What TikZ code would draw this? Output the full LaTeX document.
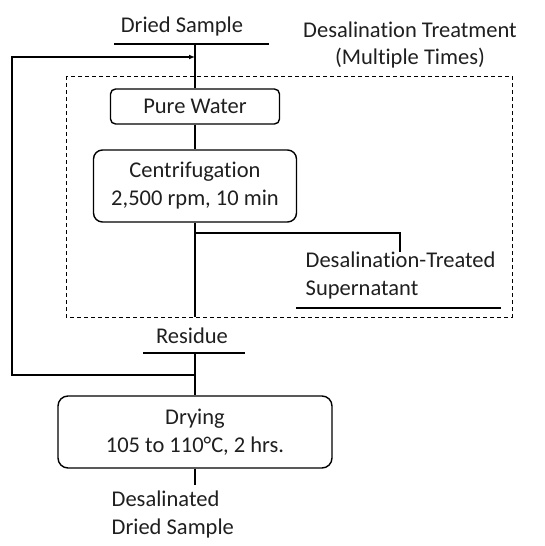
\documentclass[tikz,border=0pt]{standalone}
\usepackage{fontspec}
\setmainfont{Carlito}[Ligatures=NoCommon]
\usetikzlibrary{arrows.meta}
\begin{document}
\begin{tikzpicture}[x=1pt,y=-1pt,line width=1.4pt,
  txt/.style={font=\fontsize{22.5}{28}\selectfont,inner sep=0pt,text=black!88},
  box/.style={draw,align=center,inner sep=0pt,font=\fontsize{22.5}{28}\selectfont,text=black!88},
  dashbox/.style={draw,line width=0.9pt,dash pattern=on 4pt off 3pt}]
\useasboundingbox (0,0) rectangle (544,546);
% dashed region
\draw[dashbox] (66,76) rectangle (512,317);
% texts
\node[txt] (ds) at (182,27) {Dried Sample};
\node[txt,align=center] (dt) at (410,45) {Desalination Treatment\\(Multiple Times)};
\node[txt,align=left,anchor=north west] (sn) at (305,251) {Desalination-Treated\\Supernatant};
\node[txt] (rs) at (192,336) {Residue};
\node[txt,align=left,anchor=north west] (out) at (111,490) {Desalinated\\Dried Sample};
% boxes
\node[box,rounded corners=5pt,minimum width=169pt,minimum height=35pt] (pw) at (195,106.5) {Pure Water};
\node[box,rounded corners=9pt,minimum width=203pt,minimum height=72pt] (cf) at (195,186) {Centrifugation\\2,500 rpm, 10 min};
\node[box,rounded corners=10pt,minimum width=274pt,minimum height=72pt] (dry) at (195,432) {Drying\\105 to 110°C, 2 hrs.};
% coordinates
\coordinate (dsL) at (114,44);
\coordinate (dsR) at (269,44);
\coordinate (top) at (195,44);
\coordinate (fb) at (195,57);
\coordinate (fbL) at (12,57);
\coordinate (fbB) at (12,375);
\coordinate (j2) at (195,375);
\coordinate (br) at (195,233);
\coordinate (brR) at (400,233);
\coordinate (brE) at (400,252);
\coordinate (cfE) at (195,317);
\coordinate (snL) at (296,308);
\coordinate (snR) at (501,308);
\coordinate (rsL) at (143,353);
\coordinate (rsR) at (245,353);
\coordinate (rsT) at (195,353);
\coordinate (endp) at (195,485);
% lines
\draw (dsL) -- (dsR);
\draw (top) -- (pw.north);
\draw (pw.south) -- (cf.north);
\draw (cf.south) -- (cfE);
\draw (br) -- (brR) -- (brE);
\draw (snL) -- (snR);
\draw (rsL) -- (rsR);
\draw (rsT) -- (dry.north);
\draw[-{Latex[length=6pt,width=5pt]}] (j2) -- (fbB) -- (fbL) -- (fb);
\draw (dry.south) -- (endp);
\end{tikzpicture}
\end{document}
